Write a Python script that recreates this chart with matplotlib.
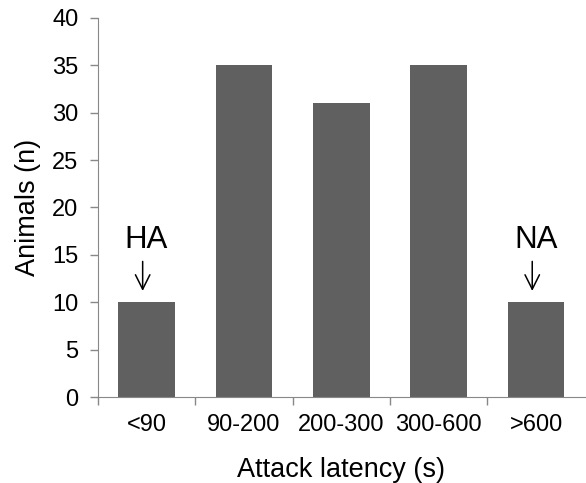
import matplotlib.pyplot as plt

categories = ['<90', '90-200', '200-300', '300-600', '>600']
animals = [10, 35, 31, 35, 10]
labels = {0: 'HA', 4: 'NA'}

plt.rcParams['font.family'] = ['Liberation Sans', 'DejaVu Sans']

fig = plt.figure(figsize=(5.86, 4.83), dpi=100)
ax = fig.add_axes([0.167, 0.178, 0.831, 0.785])

x = list(range(len(categories)))
ax.bar(x, animals, width=0.58, color='#606060')

for i, txt in labels.items():
    ax.text(i, animals[i] + 5.0, txt, ha='center', va='bottom', fontsize=22.5)
    ax.annotate('', xy=(i - 0.04, animals[i] + 0.9), xytext=(i - 0.04, animals[i] + 4.6),
                arrowprops=dict(arrowstyle='->', color='black', lw=1.1,
                                mutation_scale=26))

ax.set_xlim(-0.5, len(categories) - 0.5)
ax.set_ylim(0, 40)
ax.set_yticks(range(0, 41, 5))
ax.set_xticks(x)
ax.set_xticklabels(categories)
ax.set_xticks([i - 0.5 for i in range(len(categories))], minor=True)
ax.tick_params(axis='x', which='major', length=0, pad=12, labelsize=17)
ax.tick_params(axis='x', which='minor', length=6, color='#888888', width=1)
ax.tick_params(axis='y', length=6, color='#888888', width=1, labelsize=17, pad=8)

for s in ['top', 'right']:
    ax.spines[s].set_visible(False)
for s in ['left', 'bottom']:
    ax.spines[s].set_color('#888888')

ax.set_xlabel('Attack latency (s)', fontsize=19.5, labelpad=15)
ax.set_ylabel('Animals (n)', fontsize=19.5, labelpad=8)

fig.savefig('out.png', dpi=100)
